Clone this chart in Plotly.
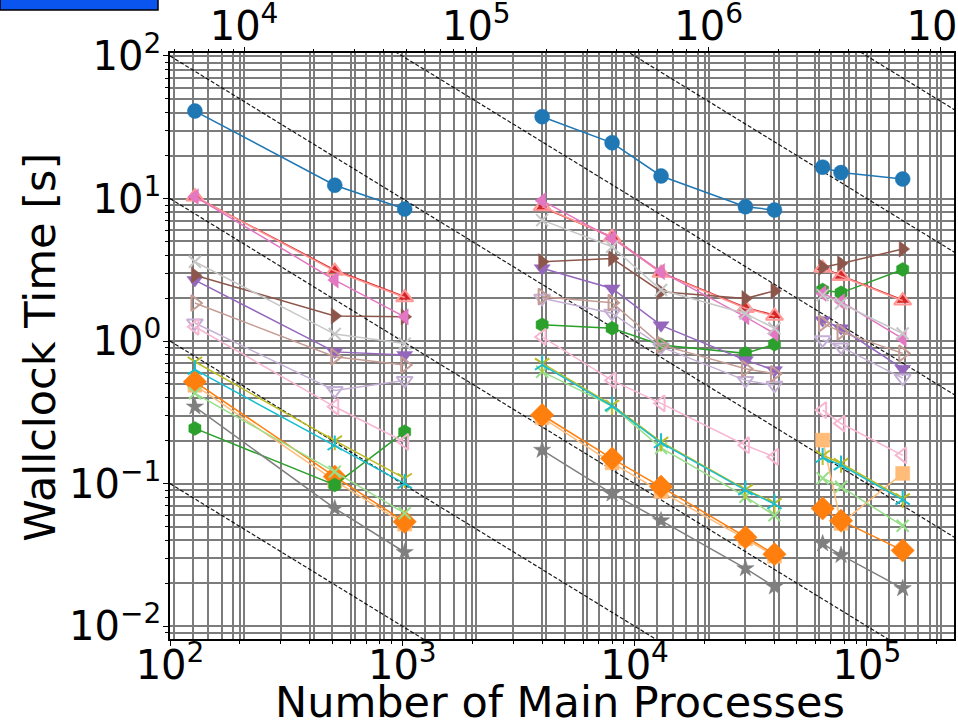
import math
import plotly.graph_objects as go

# ---------------- data ----------------
x_group1 = [128, 512, 1024]
x_group2 = [4000, 8000, 13000, 30000, 40000]
x_group3 = [64500, 77400, 142600]
cores_per_process = 48

y_blue = [[41.1, 12.4, 8.44], [37.5, 24.6, 14.4, 8.76, 8.3], [16.6, 15.2, 13.7]]
y_light_orange = [[0.49, 0.105, 0.052], [0.29, 0.14, 0.088, 0.041, 0.031], [0.202, 0.0526, 0.118]]
y_orange = [[0.518, 0.112, 0.054], [0.303, 0.150, 0.095, 0.042, 0.032], [0.067, 0.055, 0.034]]
y_green = [[0.244, 0.098, 0.231], [1.3, 1.23, 0.94, 0.82, 0.95], [2.28, 2.18, 3.18]]
y_light_green = [[0.43, 0.121, 0.062], [0.61, 0.35, 0.178, 0.081, 0.060], [0.109, 0.095, 0.0506]]
y_red = [[10.3, 3.15, 2.05], [8.67, 5.39, 3.02, 1.72, 1.52], [3.3, 2.87, 1.94]]
y_light_red = [[10.3, 3.1, 2.02], [8.8, 5.35, 3.0, 1.70, 1.50], [3.25, 2.85, 1.92]]
y_purple = [[2.68, 0.84, 0.80], [3.24, 2.34, 1.29, 0.735, 0.625], [1.40, 1.23, 0.64]]
y_light_purple = [[1.34, 0.45, 0.53], [2.0, 1.57, 0.91, 0.53, 0.49], [1.02, 0.91, 0.55]]
y_brown = [[2.9, 1.5, 1.48], [3.6, 3.8, 2.22, 1.99, 2.25], [3.3, 3.5, 4.42]]
y_light_brown = [[1.85, 0.776, 0.68], [2.05, 1.86, 0.94, 0.64, 0.59], [1.33, 1.16, 0.82]]
y_pink = [[10.3, 2.68, 1.48], [9.66, 5.26, 3.07, 1.48, 1.13], [2.16, 1.89, 1.04]]
y_light_pink = [[1.26, 0.346, 0.196], [1.07, 0.53, 0.366, 0.186, 0.154], [0.328, 0.264, 0.158]]
y_gray = [[0.346, 0.067, 0.033], [0.172, 0.085, 0.055, 0.0254, 0.0189], [0.038, 0.0315, 0.0184]]
y_light_gray = [[3.6, 1.12, 0.96], [7.06, 4.59, 2.28, 1.56, 1.23], [2.1, 1.84, 1.13]]
y_olive = [[0.716, 0.20, 0.109], [0.70, 0.356, 0.196, 0.091, 0.073], [0.158, 0.139, 0.0787]]
y_cyan = [[0.63, 0.186, 0.100], [0.68, 0.35, 0.193, 0.090, 0.072], [0.152, 0.135, 0.077]]

ideal_constants = [1e1, 1e2, 1e3, 1e4, 1e5, 1e6, 1e7]

x_range_log = [2.0, 5.375]
y_range_log = [-2.09, 2.021]

# ---------------- styles ----------------
styles = [
    (y_blue, "#1f77b4", "circle", 15),
    (y_light_orange, "#ffbb78", "square", 14),
    (y_orange, "#ff7f0e", "diamond", 18),
    (y_green, "#2ca02c", "hexagon", 14),
    (y_light_green, "#98df8a", "x-thin", 12),
    (y_red, "#d62728", "triangle-up", 11),
    (y_light_red, "#ff9896", "triangle-up-open", 15),
    (y_purple, "#9467bd", "triangle-down", 14),
    (y_light_purple, "#c5b0d5", "triangle-down-open", 14),
    (y_brown, "#8c564b", "triangle-right", 14),
    (y_light_brown, "#c49c94", "triangle-right-open", 14),
    (y_pink, "#e377c2", "triangle-left", 14),
    (y_light_pink, "#f7b6d2", "triangle-left-open", 14),
    (y_gray, "#7f7f7f", "star", 13),
    (y_light_gray, "#c7c7c7", "x-thin", 12),
    (y_olive, "#bcbd22", "y-down-open", 12),
    (y_cyan, "#17becf", "y-up-open", 12),
]

x_all = x_group1 + [None] + x_group2 + [None] + x_group3

fig = go.Figure()

# ideal scaling lines (time = C / processes)
x_lo, x_hi = 10 ** x_range_log[0], 10 ** (x_range_log[1] + 0.1)
for c in ideal_constants:
    fig.add_trace(go.Scatter(
        x=[x_lo, x_hi], y=[c / x_lo, c / x_hi], mode="lines",
        line=dict(color="rgba(0,0,0,0.9)", width=1.2, dash="4px,2px"),
        hoverinfo="skip", showlegend=False))

for ys, color, symbol, size in styles:
    y_all = ys[0] + [None] + ys[1] + [None] + ys[2]
    is_open = symbol.endswith("open") or symbol.startswith("x-thin")
    marker = dict(symbol=symbol, size=size, color=color,
                  line=dict(color=color, width=2 if is_open else 0.5))
    fig.add_trace(go.Scatter(
        x=x_all, y=y_all, mode="lines+markers", connectgaps=False,
        line=dict(color=color, width=1.5), marker=marker, showlegend=False))

top_shift = math.log10(cores_per_process)

# invisible trace to activate the top axis
fig.add_trace(go.Scatter(x=[10 ** (x_range_log[0] + top_shift + 1)], y=[1], xaxis="x2",
                         mode="markers", marker=dict(opacity=0), showlegend=False,
                         hoverinfo="skip"))


def sup(e):
    return "10<sup>" + ("\u2212" if e < 0 else "") + str(abs(e)) + "</sup>"


def minors(e0, e1):
    return [m * 10 ** e for e in range(e0, e1 + 1) for m in range(2, 10)]


GRID = "#7c7c7c"
GW = 1.5
FONT = dict(family="DejaVu Sans", size=40, color="black")
TFONT = dict(family="DejaVu Sans", size=43, color="black")


def minor_cfg(vals):
    return dict(tickmode="array", tickvals=vals, ticks="outside", ticklen=3,
                tickcolor="black", showgrid=True, gridcolor=GRID, gridwidth=GW)


fig.update_layout(
    width=958, height=728,
    margin=dict(l=170, r=4, t=53, b=89, autoexpand=False),
    plot_bgcolor="white", paper_bgcolor="white",
    font=FONT,
    xaxis=dict(type="log", range=x_range_log, automargin=False,
               tickmode="array", tickvals=[10 ** e for e in range(2, 6)],
               ticktext=[sup(e) for e in range(2, 6)],
               ticks="outside", ticklen=5, tickcolor="black",
               ticklabelstandoff=-15,
               showline=True, linecolor="black", linewidth=1.5, mirror=True,
               showgrid=True, gridcolor=GRID, gridwidth=GW, zeroline=False,
               minor=minor_cfg(minors(1, 6)), tickfont=FONT),
    xaxis2=dict(type="log", overlaying="x", side="top", automargin=False,
                range=[x_range_log[0] + top_shift, x_range_log[1] + top_shift],
                tickmode="array", tickvals=[10 ** e for e in range(4, 8)],
                ticktext=[sup(e) for e in range(4, 8)],
                ticks="outside", ticklen=5, tickcolor="black",
                ticklabelstandoff=-9, ticklabeloverflow="allow",
                showline=False, showgrid=True, gridcolor=GRID, gridwidth=GW,
                zeroline=False, minor=minor_cfg(minors(3, 8)), tickfont=FONT),
    yaxis=dict(type="log", range=y_range_log, automargin=False,
               tickmode="array", tickvals=[10 ** e for e in range(-2, 3)],
               ticktext=[sup(e) for e in range(-2, 3)],
               ticks="outside", ticklen=5, tickcolor="black",
               ticklabelstandoff=-6,
               showline=True, linecolor="black", linewidth=1.5, mirror=True,
               showgrid=True, gridcolor=GRID, gridwidth=GW, zeroline=False,
               minor=minor_cfg(minors(-3, 2)), tickfont=FONT),
    annotations=[
        dict(text="Number of Main Processes", xref="paper", yref="paper",
             x=0.4974, y=-0.108, xanchor="center", yanchor="middle",
             showarrow=False, font=TFONT),
        dict(text="Wallclock Time [s]", xref="paper", yref="paper",
             x=-0.165, y=0.498, xanchor="center", yanchor="middle", textangle=-90,
             showarrow=False, font=TFONT),
    ],
    shapes=[
        dict(type="rect", xref="paper", yref="paper",
             x0=-0.2168, x1=-0.0153, y0=1.0734, y1=1.1,
             fillcolor="#0a55f0", line=dict(color="black", width=1.5)),
    ],
)

fig.write_html("out.html")
